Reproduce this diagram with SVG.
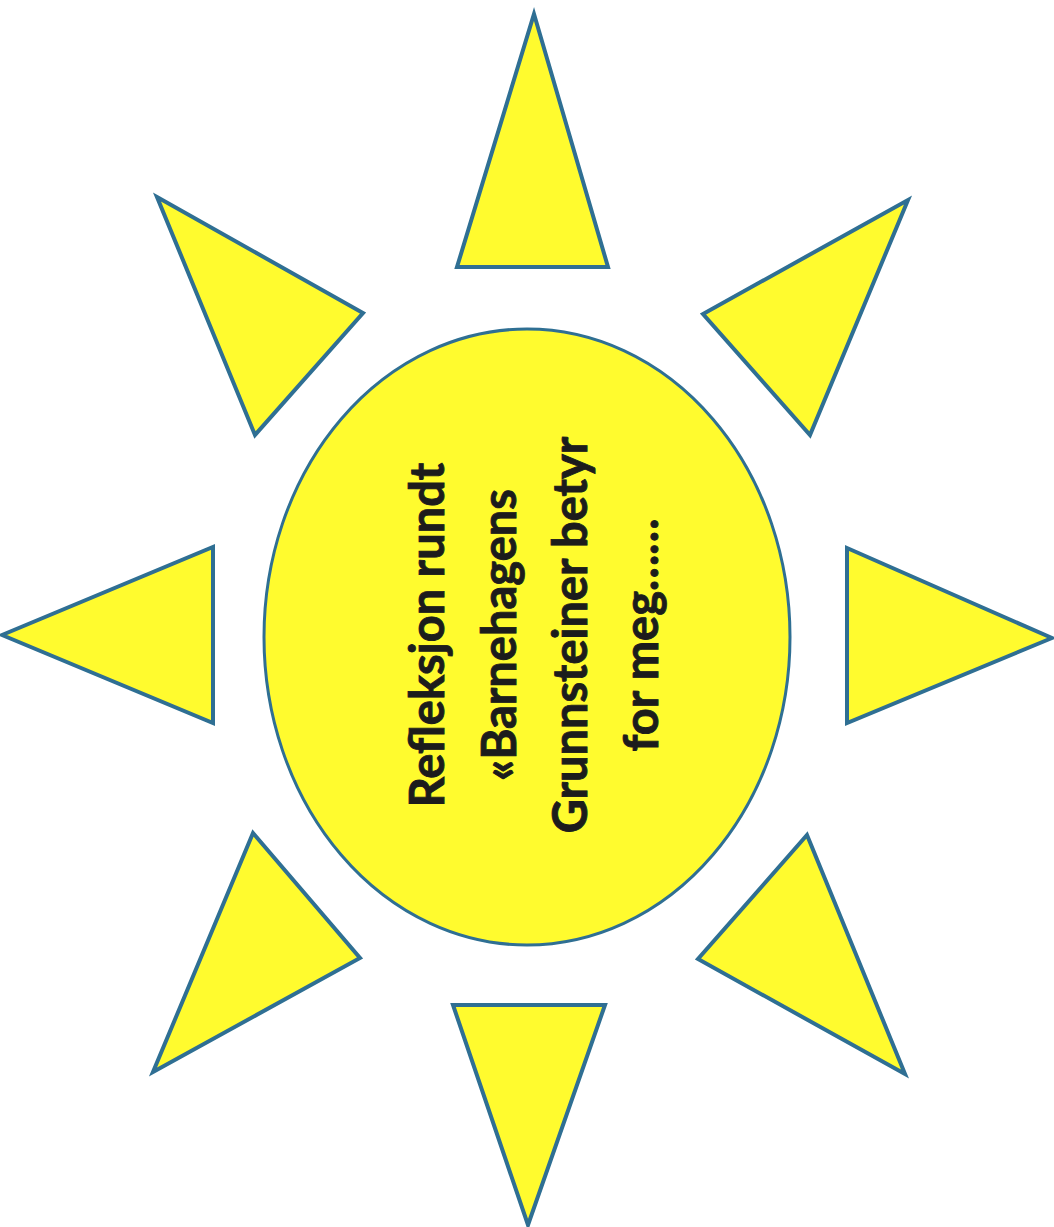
<svg xmlns="http://www.w3.org/2000/svg" width="1054" height="1227" viewBox="0 0 1054 1227">
<style>
.ray{fill:#fffb2e;stroke:#2f6f93;stroke-width:4;stroke-linejoin:miter}
.sun{fill:#fffb2e;stroke:#2f6f93;stroke-width:3}
.lbl{font-family:Lato,"Liberation Sans",sans-serif;font-weight:bold;font-size:47px;fill:#1c1c1c;stroke:#1c1c1c;stroke-width:0.9;text-anchor:middle}
</style>
<rect width="1054" height="1227" fill="#ffffff"/>
<g id="rays">
<g id="ray-top"><polygon class="ray" points="534,14 608,267 457,267"/></g>
<g id="ray-top-left"><polygon class="ray" points="157,197 363,313 255,435"/></g>
<g id="ray-top-right"><polygon class="ray" points="908,200 810,435 703,314"/></g>
<g id="ray-left"><polygon class="ray" points="213,547 213,723 2,635"/></g>
<g id="ray-right"><polygon class="ray" points="847,548 1052,638 847,723"/></g>
<g id="ray-bottom-left"><polygon class="ray" points="253,833 360,958 153,1072"/></g>
<g id="ray-bottom-right"><polygon class="ray" points="807,835 905,1074 698,959"/></g>
<g id="ray-bottom"><polygon class="ray" points="453,1005 605,1005 528,1225"/></g>
</g>
<g id="center">
<ellipse class="sun" cx="527" cy="637" rx="263" ry="308"/>
<text class="lbl" transform="translate(444,635) rotate(-90)"><tspan x="0" y="0">Refleksjon rundt</tspan><tspan x="0" y="71.5">«Barnehagens</tspan><tspan x="0" y="143">Grunnsteiner betyr</tspan><tspan x="0" y="214">for meg……</tspan></text>
</g>
</svg>
